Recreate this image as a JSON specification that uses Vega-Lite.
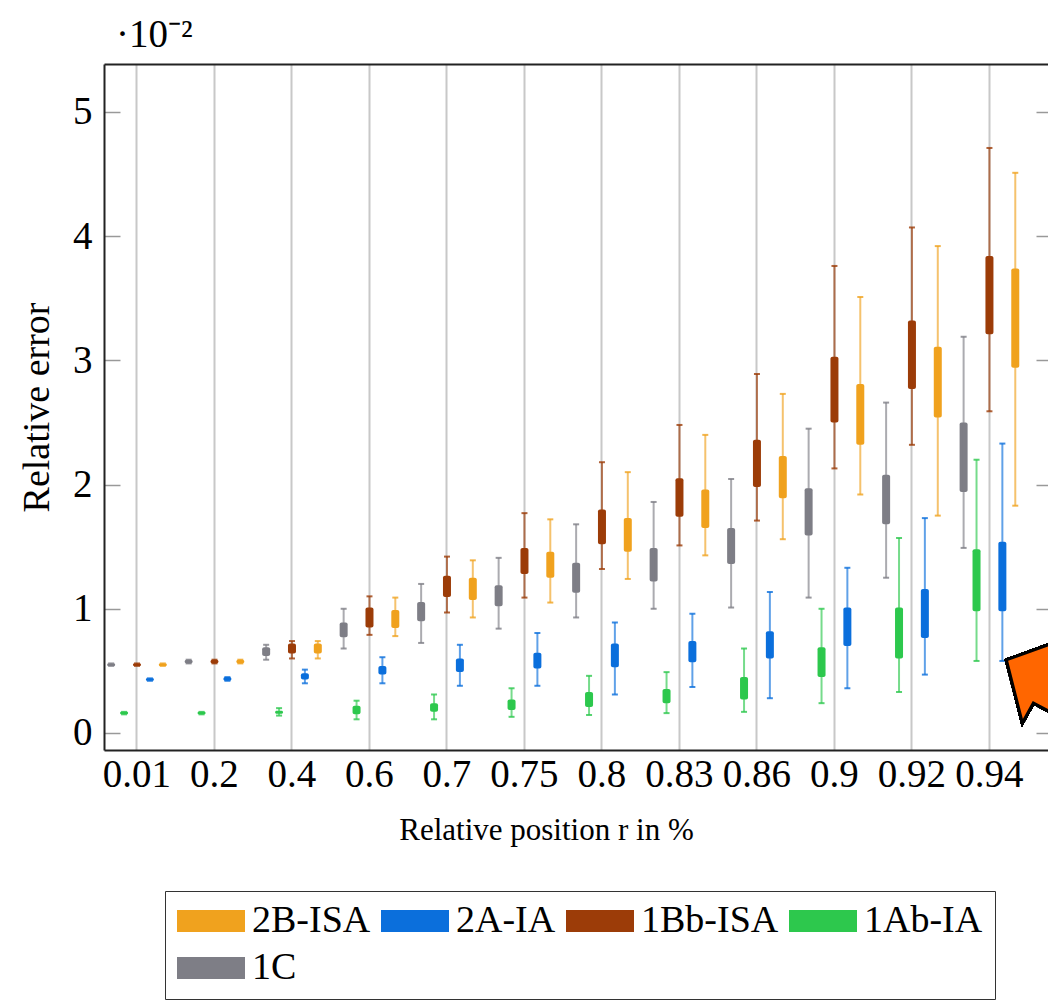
{
  "$schema": "https://vega.github.io/schema/vega-lite/v6.json",
  "width": 944,
  "height": 686,
  "autosize": {"type": "none"},
  "padding": {"left": 104, "top": 64, "right": 0, "bottom": 250},
  "background": "white",
  "config": {
    "view": {"stroke": null},
    "font": "Liberation Serif",
    "axis": {"labelFont": "Liberation Serif", "titleFont": "Liberation Serif", "labelColor": "black", "titleColor": "black", "titleFontWeight": "normal"},
    "legend": {"labelFont": "Liberation Serif", "labelColor": "black"}
  },
  "title": {"text": "·10⁻²", "anchor": "start", "frame": "group", "dx": 12, "dy": 40, "offset": 18, "baseline": "alphabetic", "fontSize": 39, "font": "Liberation Serif", "fontWeight": "normal", "color": "black"},
  "data": {"values": [
    {"r":"0.01","s":"1C","lo":0.0054,"q1":0.0054,"q3":0.0056,"hi":0.0056},
    {"r":"0.01","s":"1Ab-IA","lo":0.0015,"q1":0.0015,"q3":0.0017,"hi":0.0017},
    {"r":"0.01","s":"1Bb-ISA","lo":0.0054,"q1":0.0054,"q3":0.0056,"hi":0.0056},
    {"r":"0.01","s":"2A-IA","lo":0.0042,"q1":0.0042,"q3":0.0044,"hi":0.0044},
    {"r":"0.01","s":"2B-ISA","lo":0.0054,"q1":0.0054,"q3":0.0056,"hi":0.0056},
    {"r":"0.2","s":"1C","lo":0.0056,"q1":0.0056,"q3":0.0059,"hi":0.0059},
    {"r":"0.2","s":"1Ab-IA","lo":0.0015,"q1":0.0015,"q3":0.0017,"hi":0.0017},
    {"r":"0.2","s":"1Bb-ISA","lo":0.0056,"q1":0.0056,"q3":0.0059,"hi":0.0059},
    {"r":"0.2","s":"2A-IA","lo":0.0042,"q1":0.0042,"q3":0.0045,"hi":0.0045},
    {"r":"0.2","s":"2B-ISA","lo":0.0056,"q1":0.0056,"q3":0.0059,"hi":0.0059},
    {"r":"0.4","s":"1C","lo":0.0059,"q1":0.0062,"q3":0.0069,"hi":0.0071},
    {"r":"0.4","s":"1Ab-IA","lo":0.0014,"q1":0.00155,"q3":0.0018,"hi":0.0020},
    {"r":"0.4","s":"1Bb-ISA","lo":0.0060,"q1":0.0064,"q3":0.0072,"hi":0.0074},
    {"r":"0.4","s":"2A-IA","lo":0.0040,"q1":0.0043,"q3":0.0048,"hi":0.0051},
    {"r":"0.4","s":"2B-ISA","lo":0.0060,"q1":0.0064,"q3":0.0072,"hi":0.0074},
    {"r":"0.6","s":"1C","lo":0.0068,"q1":0.0077,"q3":0.0089,"hi":0.0100},
    {"r":"0.6","s":"1Ab-IA","lo":0.0011,"q1":0.0015,"q3":0.0022,"hi":0.0026},
    {"r":"0.6","s":"1Bb-ISA","lo":0.0079,"q1":0.0085,"q3":0.0101,"hi":0.0110},
    {"r":"0.6","s":"2A-IA","lo":0.0040,"q1":0.0047,"q3":0.0054,"hi":0.0061},
    {"r":"0.6","s":"2B-ISA","lo":0.0078,"q1":0.00845,"q3":0.0099,"hi":0.0109},
    {"r":"0.7","s":"1C","lo":0.00725,"q1":0.0090,"q3":0.01055,"hi":0.0120},
    {"r":"0.7","s":"1Ab-IA","lo":0.0011,"q1":0.0017,"q3":0.0024,"hi":0.0031},
    {"r":"0.7","s":"1Bb-ISA","lo":0.0097,"q1":0.01095,"q3":0.01265,"hi":0.0142},
    {"r":"0.7","s":"2A-IA","lo":0.0038,"q1":0.0049,"q3":0.0060,"hi":0.0071},
    {"r":"0.7","s":"2B-ISA","lo":0.0093,"q1":0.0107,"q3":0.0125,"hi":0.0139},
    {"r":"0.75","s":"1C","lo":0.0084,"q1":0.0102,"q3":0.0119,"hi":0.0141},
    {"r":"0.75","s":"1Ab-IA","lo":0.0013,"q1":0.00185,"q3":0.0027,"hi":0.0036},
    {"r":"0.75","s":"1Bb-ISA","lo":0.0109,"q1":0.0128,"q3":0.0149,"hi":0.0177},
    {"r":"0.75","s":"2A-IA","lo":0.0038,"q1":0.0052,"q3":0.00645,"hi":0.00805},
    {"r":"0.75","s":"2B-ISA","lo":0.0105,"q1":0.0125,"q3":0.0146,"hi":0.0172},
    {"r":"0.8","s":"1C","lo":0.0093,"q1":0.0113,"q3":0.0137,"hi":0.0168},
    {"r":"0.8","s":"1Ab-IA","lo":0.00145,"q1":0.0021,"q3":0.0033,"hi":0.0046},
    {"r":"0.8","s":"1Bb-ISA","lo":0.0132,"q1":0.0152,"q3":0.0180,"hi":0.0218},
    {"r":"0.8","s":"2A-IA","lo":0.0031,"q1":0.0053,"q3":0.0072,"hi":0.0089},
    {"r":"0.8","s":"2B-ISA","lo":0.0124,"q1":0.0146,"q3":0.0173,"hi":0.0210},
    {"r":"0.83","s":"1C","lo":0.0100,"q1":0.0122,"q3":0.0149,"hi":0.0186},
    {"r":"0.83","s":"1Ab-IA","lo":0.0016,"q1":0.0024,"q3":0.00355,"hi":0.0049},
    {"r":"0.83","s":"1Bb-ISA","lo":0.0151,"q1":0.0174,"q3":0.0205,"hi":0.0248},
    {"r":"0.83","s":"2A-IA","lo":0.0037,"q1":0.0057,"q3":0.0074,"hi":0.0096},
    {"r":"0.83","s":"2B-ISA","lo":0.0143,"q1":0.0165,"q3":0.0196,"hi":0.0240},
    {"r":"0.86","s":"1C","lo":0.0101,"q1":0.0136,"q3":0.0165,"hi":0.02045},
    {"r":"0.86","s":"1Ab-IA","lo":0.0017,"q1":0.0027,"q3":0.0045,"hi":0.0068},
    {"r":"0.86","s":"1Bb-ISA","lo":0.0171,"q1":0.0198,"q3":0.0236,"hi":0.0289},
    {"r":"0.86","s":"2A-IA","lo":0.0028,"q1":0.0060,"q3":0.0082,"hi":0.01135},
    {"r":"0.86","s":"2B-ISA","lo":0.0156,"q1":0.0189,"q3":0.0223,"hi":0.0273},
    {"r":"0.9","s":"1C","lo":0.0109,"q1":0.0159,"q3":0.0197,"hi":0.0245},
    {"r":"0.9","s":"1Ab-IA","lo":0.0024,"q1":0.0045,"q3":0.0069,"hi":0.0100},
    {"r":"0.9","s":"1Bb-ISA","lo":0.0213,"q1":0.0250,"q3":0.0303,"hi":0.0376},
    {"r":"0.9","s":"2A-IA","lo":0.0036,"q1":0.0070,"q3":0.0101,"hi":0.0133},
    {"r":"0.9","s":"2B-ISA","lo":0.0192,"q1":0.0232,"q3":0.0281,"hi":0.0351},
    {"r":"0.92","s":"1C","lo":0.0125,"q1":0.0168,"q3":0.0208,"hi":0.0266},
    {"r":"0.92","s":"1Ab-IA","lo":0.0033,"q1":0.0060,"q3":0.0101,"hi":0.0157},
    {"r":"0.92","s":"1Bb-ISA","lo":0.0232,"q1":0.0277,"q3":0.0332,"hi":0.0407},
    {"r":"0.92","s":"2A-IA","lo":0.0047,"q1":0.00765,"q3":0.0116,"hi":0.0173},
    {"r":"0.92","s":"2B-ISA","lo":0.0175,"q1":0.0254,"q3":0.0311,"hi":0.0392},
    {"r":"0.94","s":"1C","lo":0.0149,"q1":0.0194,"q3":0.0250,"hi":0.0319},
    {"r":"0.94","s":"1Ab-IA","lo":0.0058,"q1":0.0098,"q3":0.0148,"hi":0.0220},
    {"r":"0.94","s":"1Bb-ISA","lo":0.0259,"q1":0.0321,"q3":0.0384,"hi":0.0471},
    {"r":"0.94","s":"2A-IA","lo":0.0058,"q1":0.0098,"q3":0.0154,"hi":0.0233},
    {"r":"0.94","s":"2B-ISA","lo":0.0183,"q1":0.0294,"q3":0.0374,"hi":0.0451}
  ]},
  "encoding": {
    "xOffset": {"field": "s", "type": "nominal", "sort": ["1C", "1Ab-IA", "1Bb-ISA", "2A-IA", "2B-ISA"], "scale": {"paddingInner": 0, "paddingOuter": 0}}
  },
  "layer": [
    {
      "encoding": {
        "color": {
          "field": "s", "type": "nominal",
          "scale": {"domain": ["2B-ISA", "2A-IA", "1Bb-ISA", "1Ab-IA", "1C"], "range": ["#F0A21E", "#0B6FDC", "#9C3C08", "#2DC84D", "#7E7E86"]},
          "legend": {
            "title": null, "orient": "none", "legendX": 61, "legendY": 827, "direction": "horizontal", "columns": 4,
            "symbolType": "M-1,-0.32H1V0.32H-1Z", "symbolSize": 4624, "symbolStrokeWidth": 0, "symbolOpacity": 1,
            "clipHeight": 36, "labelFontSize": 38, "labelOffset": 7, "labelLimit": 400,
            "columnPadding": 10, "rowPadding": 9, "padding": 12,
            "strokeColor": "#333333", "fillColor": "white"
          }
        }
      },
      "layer": [
        {
          "mark": {"type": "bar", "width": 8, "cornerRadius": 2},
          "encoding": {
            "x": {"field": "r", "type": "nominal", "sort": ["0.01", "0.2", "0.4", "0.6", "0.7", "0.75", "0.8", "0.83", "0.86", "0.9", "0.92", "0.94"],
                  "scale": {"type": "band", "paddingInner": 0.1667, "paddingOuter": 0.174, "align": 0.026},
                  "axis": {"orient": "bottom", "title": "Relative position r in %", "labelAngle": 0, "labelFontSize": 39, "labelPadding": 5, "ticks": false,
                           "domain": true, "domainColor": "#222222", "domainWidth": 2,
                           "grid": true, "gridColor": "#c8c8c8", "gridWidth": 2, "titleFontSize": 31, "titlePadding": 21, "titleX": 442}},
            "y": {"field": "q1", "type": "quantitative",
                  "scale": {"domain": [-0.00137, 0.05386], "nice": false, "zero": false},
                  "axis": {"orient": "left", "title": "Relative error", "values": [0, 0.01, 0.02, 0.03, 0.04, 0.05],
                           "labelExpr": "format(datum.value*100, '.0f')", "labelFontSize": 39, "tickSize": -16, "tickColor": "#999999", "tickWidth": 1.5,
                           "labelPadding": 28, "domain": true, "domainColor": "#222222", "domainWidth": 2, "grid": false,
                           "titleFontSize": 38, "titlePadding": 16}},
            "y2": {"field": "q3"}
          }
        },
        {
          "mark": {"type": "rule", "strokeWidth": 2, "opacity": 0.65},
          "encoding": {
            "x": {"field": "r", "type": "nominal", "sort": ["0.01", "0.2", "0.4", "0.6", "0.7", "0.75", "0.8", "0.83", "0.86", "0.9", "0.92", "0.94"],
                  "axis": {"orient": "top", "title": null, "labels": false, "ticks": false, "grid": false, "domain": true, "domainColor": "#222222", "domainWidth": 2}},
            "y": {"field": "lo", "type": "quantitative",
                  "axis": {"orient": "right", "title": null, "labels": false, "values": [0, 0.01, 0.02, 0.03, 0.04, 0.05], "tickSize": -12, "tickColor": "#999999", "tickWidth": 1.5, "domain": false, "grid": false}},
            "y2": {"field": "hi"}
          }
        },
        {
          "mark": {"type": "tick", "size": 6, "thickness": 2, "opacity": 0.8},
          "encoding": {
            "x": {"field": "r", "type": "nominal", "sort": ["0.01", "0.2", "0.4", "0.6", "0.7", "0.75", "0.8", "0.83", "0.86", "0.9", "0.92", "0.94"], "axis": null},
            "y": {"field": "hi", "type": "quantitative", "axis": null}
          }
        },
        {
          "mark": {"type": "tick", "size": 6, "thickness": 2, "opacity": 0.8},
          "encoding": {
            "x": {"field": "r", "type": "nominal", "sort": ["0.01", "0.2", "0.4", "0.6", "0.7", "0.75", "0.8", "0.83", "0.86", "0.9", "0.92", "0.94"], "axis": null},
            "y": {"field": "lo", "type": "quantitative", "axis": null}
          }
        }
      ]
    },
    {
      "mark": {"type": "point", "shape": "M4,0L65,-22L54.8,-1.8L108,26L84,71L31,43L20,63Z", "size": 4, "filled": true, "fill": "#FF6600", "stroke": "black", "strokeWidth": 3, "opacity": 1},
      "encoding": {
        "x": {"datum": "0.94", "type": "nominal", "axis": null},
        "xOffset": {"datum": "2A-IA", "type": "nominal"},
        "y": {"datum": 0.00588, "type": "quantitative", "axis": null}
      }
    }
  ],
  "resolve": {"axis": {"x": "independent", "y": "independent"}}
}
